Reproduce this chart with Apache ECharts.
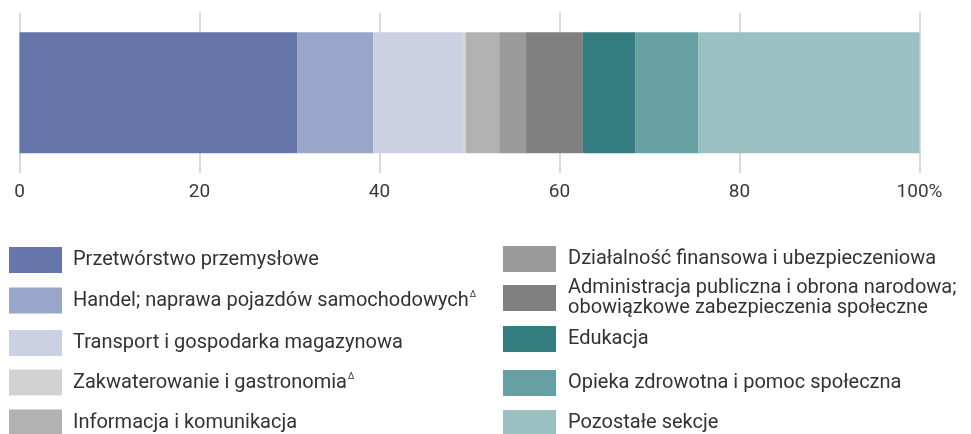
<!DOCTYPE html>
<html>
<head>
<meta charset="utf-8">
<style>
html,body{margin:0;padding:0;background:#fff;}
#chart{width:971px;height:434px;}
</style>
<script src="https://cdn.jsdelivr.net/npm/echarts@6/dist/echarts.min.js"></script>
</head>
<body>
<div id="chart"></div>
<script>
// Data
var categories = ['2023'];
var sectorNames = [
  'Przetwórstwo przemysłowe',
  'Handel; naprawa pojazdów samochodowychΔ',
  'Transport i gospodarka magazynowa',
  'Zakwaterowanie i gastronomiaΔ',
  'Informacja i komunikacja',
  'Działalność finansowa i ubezpieczeniowa',
  'Administracja publiczna i obrona narodowa;\nobowiązkowe zabezpieczenia społeczne',
  'Edukacja',
  'Opieka zdrowotna i pomoc społeczna',
  'Pozostałe sekcje'
];
var sectorValues = [30.9, 8.4, 9.9, 0.4, 3.7, 2.9, 6.4, 5.8, 7.0, 24.6];
var sectorColors = ['#6676ab', '#9aa6c9', '#cbd0e3', '#d2d2d2', '#b2b2b2', '#9a9a9a', '#808080', '#337c80', '#66a0a3', '#9ac0c2'];
var tickValues = [0, 20, 40, 60, 80, 100];
var tickLabels = ['0', '20', '40', '60', '80', '100%'];

var chart = echarts.init(document.getElementById('chart'), null, {renderer: 'canvas'});

var series = sectorNames.map(function (n, i) {
  return {
    name: n,
    type: 'bar',
    stack: 'total',
    barWidth: 121,
    data: [sectorValues[i]],
    itemStyle: {color: sectorColors[i]},
    emphasis: {disabled: true}
  };
});

// legend layout: two columns, one legend component per item
var leftTops = [247, 287.5, 330, 369.5, 409.5];
var rightTops = [246, 278, 326, 370, 410];
var legends = sectorNames.map(function (n, i) {
  var col = i < 5 ? 0 : 1;
  var row = i % 5;
  return {
    data: [n],
    left: col === 0 ? 9 : 503,
    top: col === 0 ? leftTops[row] : rightTops[row],
    padding: 0,
    orient: 'vertical',
    itemWidth: 53,
    itemHeight: 26,
    icon: 'rect',
    selectedMode: false,
    formatter: function (name) {
      return name.replace('Δ', '{sup|Δ}');
    },
    textStyle: {
      fontFamily: 'Roboto',
      fontSize: 20,
      color: '#333',
      lineHeight: 20,
      padding: [0, 0, 0, col === 0 ? 6 : 7],
      rich: {
        sup: {fontSize: 9, color: '#333', verticalAlign: 'top', padding: [0, 0, 10, 1]}
      }
    }
  };
});

var option = {
  animation: false,
  backgroundColor: '#fff',
  grid: {left: 19.5, width: 900, top: 12.7, height: 160.3, containLabel: false},
  legend: legends,
  xAxis: {
    type: 'value',
    min: 0,
    max: 100,
    interval: 20,
    axisLine: {show: false},
    axisTick: {show: false},
    splitLine: {show: true, lineStyle: {color: '#d9d9d9', width: 2}},
    axisLabel: {
      margin: 10,
      fontFamily: 'Roboto',
      fontSize: 19,
      color: '#3a3a3a',
      formatter: function (v) {
        var k = tickValues.indexOf(v);
        return k >= 0 ? tickLabels[k] : '';
      }
    }
  },
  yAxis: {
    type: 'category',
    data: categories,
    show: false
  },
  series: series
};
chart.setOption(option);
</script>
</body>
</html>
